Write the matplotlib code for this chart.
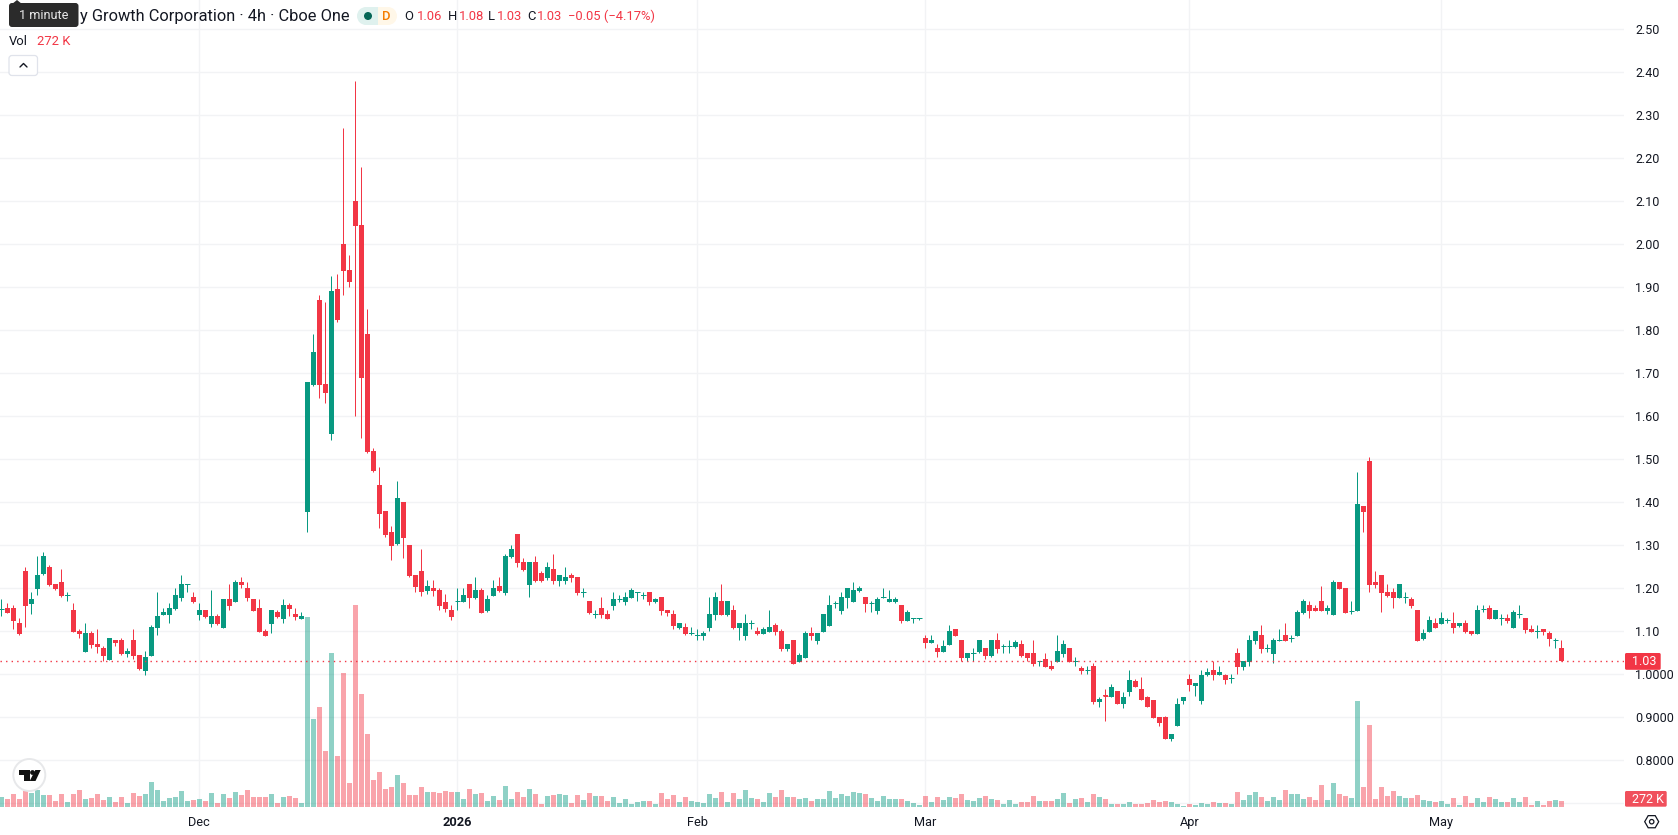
import matplotlib
matplotlib.use("Agg")
import matplotlib.pyplot as plt
from matplotlib.patches import Rectangle, FancyBboxPatch, Polygon, Circle, RegularPolygon

plt.rcParams["font.family"] = ["Roboto", "DejaVu Sans"]

# 4h OHLC series, oldest bar first
opens = [
    1.152,1.154,1.154,1.119,1.240,1.164,1.198,1.233,1.250,1.210,
    1.215,1.183,1.150,1.101,1.052,1.096,1.071,1.061,1.033,1.080,
    1.080,1.047,1.080,1.045,1.008,1.043,1.108,1.138,1.138,1.152,
    1.178,1.208,1.180,1.138,1.150,1.117,1.136,1.108,1.175,1.168,
    1.215,1.201,1.175,1.154,1.101,1.117,1.145,1.129,1.161,1.140,
    1.129,1.378,1.673,1.871,1.676,1.559,1.897,2.001,1.941,2.101,
    2.045,1.792,1.520,1.441,1.380,1.331,1.304,1.401,1.301,1.231,
    1.240,1.194,1.201,1.196,1.167,1.150,1.170,1.168,1.210,1.178,
    1.196,1.147,1.182,1.205,1.189,1.273,1.326,1.261,1.208,1.261,
    1.236,1.224,1.245,1.217,1.217,1.231,1.226,1.190,1.171,1.139,
    1.154,1.140,1.159,1.174,1.168,1.178,1.189,1.183,1.191,1.168,
    1.180,1.150,1.140,1.108,1.110,1.094,1.090,1.089,1.108,1.138,
    1.171,1.138,1.150,1.108,1.089,1.118,1.101,1.094,1.098,1.115,
    1.101,1.059,1.080,1.029,1.038,1.096,1.078,1.098,1.112,1.165,
    1.147,1.178,1.168,1.194,1.180,1.165,1.147,1.178,1.168,1.168,
    1.161,1.124,1.129,1.129,1.084,1.073,1.061,1.052,1.068,1.105,
    1.080,1.038,1.048,1.052,1.061,1.043,1.080,1.065,1.065,1.064,
    1.071,1.050,1.050,1.030,1.036,1.019,1.029,1.047,1.061,1.029,
    1.015,1.009,1.019,0.936,0.951,0.947,0.961,0.931,0.959,0.984,
    0.966,0.947,0.940,0.901,0.901,0.850,0.880,0.938,0.989,0.973,
    0.938,0.998,1.010,0.998,0.998,0.990,1.050,1.017,1.029,1.078,
    1.091,1.059,1.047,1.078,1.091,1.083,1.089,1.143,1.161,1.154,
    1.171,1.147,1.138,1.215,1.201,1.147,1.147,1.391,1.496,1.215,
    1.231,1.191,1.191,1.178,1.179,1.175,1.150,1.082,1.098,1.119,
    1.117,1.125,1.119,1.112,1.119,1.101,1.094,1.152,1.154,1.129,
    1.130,1.131,1.108,1.139,1.131,1.105,1.099,1.105,1.096,1.079,
    1.06,
]
highs = [
    1.174,1.165,1.161,1.131,1.250,1.191,1.275,1.285,1.254,1.210,
    1.245,1.191,1.166,1.105,1.119,1.101,1.105,1.066,1.084,1.080,
    1.084,1.061,1.105,1.045,1.054,1.115,1.191,1.154,1.166,1.201,
    1.231,1.210,1.191,1.166,1.150,1.196,1.140,1.175,1.210,1.219,
    1.226,1.215,1.175,1.175,1.105,1.150,1.150,1.175,1.166,1.154,
    1.145,1.680,1.792,1.881,1.866,1.927,1.932,2.271,1.976,2.380,
    2.180,1.850,1.527,1.481,1.380,1.345,1.450,1.401,1.301,1.231,
    1.292,1.219,1.219,1.201,1.186,1.161,1.201,1.201,1.210,1.226,
    1.200,1.185,1.219,1.226,1.280,1.301,1.326,1.270,1.261,1.275,
    1.240,1.261,1.280,1.231,1.250,1.236,1.226,1.201,1.171,1.150,
    1.180,1.150,1.191,1.185,1.191,1.200,1.191,1.191,1.191,1.177,
    1.180,1.150,1.150,1.119,1.119,1.110,1.105,1.101,1.180,1.191,
    1.210,1.171,1.161,1.119,1.140,1.126,1.110,1.110,1.150,1.119,
    1.105,1.071,1.080,1.050,1.101,1.110,1.096,1.140,1.184,1.171,
    1.191,1.201,1.215,1.205,1.180,1.171,1.180,1.201,1.196,1.180,
    1.161,1.150,1.130,1.130,1.091,1.091,1.071,1.080,1.115,1.105,
    1.080,1.050,1.061,1.080,1.061,1.080,1.096,1.071,1.080,1.080,
    1.080,1.050,1.080,1.031,1.050,1.031,1.091,1.080,1.061,1.040,
    1.019,1.019,1.026,0.947,0.966,0.978,0.961,0.959,1.010,0.989,
    0.994,0.950,0.940,0.901,0.903,0.861,0.945,0.947,1.001,0.980,
    1.010,1.015,1.031,1.019,1.001,1.001,1.061,1.031,1.091,1.101,
    1.115,1.071,1.084,1.105,1.119,1.091,1.150,1.175,1.171,1.161,
    1.205,1.161,1.219,1.215,1.201,1.171,1.470,1.391,1.505,1.240,
    1.231,1.210,1.201,1.210,1.191,1.180,1.150,1.105,1.136,1.131,
    1.145,1.131,1.145,1.119,1.126,1.101,1.161,1.161,1.161,1.150,
    1.140,1.140,1.150,1.161,1.131,1.115,1.115,1.105,1.101,1.084,
    1.08,
]
lows = [
    1.136,1.143,1.105,1.091,1.110,1.140,1.184,1.231,1.205,1.196,
    1.180,1.171,1.098,1.085,1.052,1.061,1.050,1.031,1.033,1.066,
    1.045,1.040,1.036,1.010,0.998,1.043,1.091,1.138,1.119,1.150,
    1.171,1.191,1.166,1.126,1.131,1.110,1.115,1.108,1.150,1.168,
    1.201,1.171,1.147,1.098,1.089,1.096,1.131,1.119,1.136,1.126,
    1.129,1.331,1.671,1.642,1.632,1.545,1.819,1.881,1.901,1.601,
    1.550,1.515,1.471,1.341,1.319,1.266,1.301,1.271,1.226,1.192,
    1.181,1.186,1.181,1.150,1.145,1.126,1.150,1.168,1.154,1.175,
    1.143,1.145,1.182,1.191,1.184,1.270,1.250,1.240,1.180,1.215,
    1.215,1.219,1.210,1.205,1.210,1.215,1.184,1.180,1.140,1.131,
    1.131,1.129,1.150,1.168,1.161,1.178,1.171,1.175,1.161,1.166,
    1.138,1.136,1.105,1.105,1.091,1.091,1.080,1.080,1.101,1.126,
    1.138,1.136,1.105,1.080,1.080,1.105,1.091,1.094,1.098,1.091,
    1.054,1.054,1.024,1.029,1.038,1.080,1.071,1.098,1.112,1.154,
    1.140,1.154,1.168,1.191,1.145,1.145,1.140,1.178,1.168,1.166,
    1.119,1.124,1.119,1.126,1.061,1.073,1.040,1.052,1.068,1.089,
    1.031,1.031,1.031,1.050,1.036,1.040,1.050,1.050,1.050,1.061,
    1.040,1.031,1.019,1.019,1.017,1.010,1.029,1.040,1.029,1.019,
    1.001,1.001,0.931,0.924,0.891,0.947,0.931,0.922,0.950,0.971,
    0.940,0.924,0.898,0.880,0.850,0.845,0.880,0.931,0.961,0.950,
    0.931,0.996,0.987,0.998,0.978,0.980,1.001,1.010,1.019,1.071,
    1.050,1.052,1.026,1.078,1.078,1.075,1.089,1.140,1.131,1.147,
    1.147,1.140,1.138,1.198,1.143,1.140,1.147,1.331,1.191,1.200,
    1.145,1.180,1.154,1.178,1.166,1.154,1.078,1.080,1.098,1.108,
    1.117,1.119,1.096,1.110,1.096,1.091,1.094,1.145,1.129,1.129,
    1.115,1.119,1.108,1.131,1.096,1.098,1.084,1.091,1.066,1.061,
    1.03,
]
closes = [
    1.153,1.143,1.124,1.094,1.159,1.175,1.231,1.275,1.208,1.198,
    1.182,1.184,1.098,1.094,1.096,1.068,1.064,1.043,1.084,1.073,
    1.047,1.054,1.043,1.012,1.040,1.110,1.136,1.145,1.154,1.184,
    1.210,1.210,1.168,1.150,1.133,1.136,1.117,1.175,1.159,1.215,
    1.208,1.178,1.147,1.098,1.089,1.150,1.133,1.161,1.152,1.133,
    1.136,1.680,1.750,1.673,1.655,1.892,1.824,1.938,1.912,2.043,
    1.690,1.517,1.473,1.373,1.324,1.299,1.411,1.318,1.229,1.203,
    1.191,1.205,1.194,1.160,1.152,1.133,1.171,1.184,1.178,1.196,
    1.143,1.175,1.201,1.194,1.275,1.291,1.259,1.243,1.261,1.217,
    1.217,1.250,1.217,1.231,1.226,1.224,1.189,1.191,1.143,1.140,
    1.138,1.129,1.175,1.175,1.180,1.196,1.191,1.184,1.168,1.175,
    1.147,1.143,1.112,1.119,1.094,1.095,1.091,1.096,1.140,1.180,
    1.138,1.171,1.108,1.119,1.119,1.119,1.094,1.105,1.110,1.098,
    1.059,1.071,1.024,1.045,1.096,1.089,1.096,1.140,1.161,1.166,
    1.180,1.201,1.196,1.201,1.164,1.166,1.175,1.179,1.175,1.175,
    1.124,1.145,1.130,1.130,1.073,1.080,1.052,1.066,1.101,1.089,
    1.038,1.050,1.049,1.080,1.043,1.080,1.059,1.066,1.066,1.075,
    1.043,1.038,1.024,1.031,1.017,1.012,1.054,1.071,1.029,1.030,
    1.008,1.010,0.936,0.943,0.950,0.971,0.931,0.947,0.987,0.971,
    0.940,0.924,0.898,0.887,0.850,0.861,0.931,0.947,0.975,0.980,
    0.998,1.005,0.998,1.005,0.987,0.991,1.017,1.031,1.080,1.101,
    1.059,1.060,1.080,1.079,1.078,1.084,1.145,1.171,1.147,1.147,
    1.147,1.154,1.215,1.198,1.143,1.148,1.396,1.378,1.208,1.208,
    1.189,1.182,1.178,1.210,1.180,1.159,1.078,1.096,1.126,1.108,
    1.131,1.126,1.108,1.119,1.098,1.094,1.150,1.153,1.129,1.150,
    1.131,1.124,1.145,1.140,1.103,1.098,1.100,1.098,1.082,1.080,
    1.03,
]
# Traded volume per bar, in thousands of shares
volumes_k = [
    464,368,608,368,752,656,800,560,560,272,
    608,224,608,800,368,416,608,320,464,224,
    464,176,656,512,608,1184,800,272,416,464,
    752,272,320,368,272,656,176,608,416,704,
    560,800,464,464,464,608,176,464,512,416,
    176,9088,4208,4784,2672,7376,2432,6416,1136,9680,
    5408,3488,1280,1664,848,944,1520,1136,560,560,
    944,704,704,656,752,704,704,368,848,608,
    656,272,512,320,992,368,704,464,848,608,
    128,512,560,608,560,176,560,320,656,512,
    512,272,464,176,368,128,224,272,272,128,
    656,368,560,224,464,272,224,176,608,416,
    704,224,656,368,800,416,368,224,656,464,
    800,464,464,368,416,272,368,368,752,416,
    608,512,704,656,608,416,272,512,368,368,
    368,272,176,80,512,224,464,320,464,416,
    608,320,272,416,512,368,320,128,320,128,
    224,224,512,272,272,272,368,656,176,368,
    416,224,608,464,368,128,128,128,224,128,
    128,176,320,224,272,224,128,32,128,80,
    160,128,224,176,176,144,704,320,560,704,
    464,272,464,320,800,608,608,368,464,320,
    1040,320,1136,608,512,416,5072,944,3920,368,
    944,512,752,512,416,416,560,320,272,224,
    272,128,416,80,512,176,416,224,464,368,
    224,224,416,224,464,80,272,80,272,320,
    272,
]

# Time axis: bar index of each month boundary and its label
tick_bars = [33, 76, 116, 154, 198, 240]
tick_labels = ["Dec", "2026", "Feb", "Mar", "Apr", "May"]

# Price scale levels; the 0.70 level sits behind the volume tag, so it only gets a grid line
grid_levels = [0.7, 0.8, 0.9, 1.0, 1.1, 1.2, 1.3, 1.4, 1.5, 1.6, 1.7, 1.8, 1.9,
               2.0, 2.1, 2.2, 2.3, 2.4, 2.5]
price_ticks = grid_levels[1:]

UP = "#089981"
DOWN = "#F23645"
GRID = "#F2F3F5"
INK = "#131722"

W, H = 1678, 835
PANE_RIGHT, PANE_BOTTOM = 1624.0, 806.7
BAR_STEP = 6.0
FIRST_BAR_X = 1.3
PX_PER_UNIT = 430.0
Y_AT_ONE = 674.3
K_PER_PX = 48.0

fig = plt.figure(figsize=(W / 100, H / 100), dpi=100, facecolor="white")
rect = [0, 1 - PANE_BOTTOM / H, PANE_RIGHT / W, PANE_BOTTOM / H]

ax = fig.add_axes(rect, zorder=2)
ax.patch.set_alpha(0)
ax_vol = fig.add_axes(rect, zorder=1, sharex=ax)
ax_vol.set_facecolor("white")

n = len(closes)
xs = list(range(n))
colors = [UP if c >= o else DOWN for o, c in zip(opens, closes)]

ax.set_xlim(-FIRST_BAR_X / BAR_STEP, (PANE_RIGHT - FIRST_BAR_X) / BAR_STEP)
ax.set_ylim(1 - (PANE_BOTTOM - Y_AT_ONE) / PX_PER_UNIT, 1 + Y_AT_ONE / PX_PER_UNIT)
ax_vol.set_ylim(0, PANE_BOTTOM * K_PER_PX)

# Grid stays beneath every mark
for lvl in grid_levels:
    ax_vol.axhline(lvl * 0 + (lvl - ax.get_ylim()[0]) / (ax.get_ylim()[1] - ax.get_ylim()[0]) * ax_vol.get_ylim()[1],
                   color=GRID, lw=1.0, zorder=0.5)
for b in tick_bars:
    ax_vol.axvline(b, color=GRID, lw=1.0, zorder=0.5)

# Volume histogram
ax_vol.bar(xs, volumes_k, width=5 / 6, color=colors, alpha=0.45, linewidth=0, zorder=2)

# Candles: wick, body, and a hairline where open and close nearly coincide
ax.vlines(xs, lows, highs, colors=colors, lw=0.72, zorder=3)
bottoms = [min(o, c) for o, c in zip(opens, closes)]
heights = [abs(o - c) for o, c in zip(opens, closes)]
ax.bar(xs, heights, bottom=bottoms, width=5 / 6, color=colors, linewidth=0, zorder=4)
for x, o, c, col in zip(xs, opens, closes, colors):
    if abs(o - c) < 0.004:
        ax.hlines(c, x - 0.42, x + 0.42, colors=col, lw=0.72, zorder=4)

# Last-price line
last_close = closes[-1]
ax.axhline(last_close, color=DOWN, lw=1.0, ls=(0, (1, 3)), zorder=5)

for side in ax.spines.values():
    side.set_visible(False)
for side in ax_vol.spines.values():
    side.set_visible(False)
ax_vol.tick_params(left=False, labelleft=False, bottom=False, labelbottom=False)

ax.yaxis.tick_right()
ax.set_yticks(price_ticks)
ax.set_yticklabels([f"{t:.4f}" if t < 1.05 else f"{t:.2f}" for t in price_ticks],
                   fontsize=9.0, color=INK)
ax.tick_params(axis="y", length=0, pad=8)
ax.set_xticks(tick_bars)
ax.set_xticklabels(tick_labels, fontsize=9.2, color=INK)
ax.get_xticklabels()[1].set_fontweight("bold")
ax.tick_params(axis="x", length=0, pad=7)

# Interface layer drawn in screen pixels
ui = fig.add_axes([0, 0, 1, 1], zorder=10)
ui.set_xlim(0, W)
ui.set_ylim(H, 0)
ui.axis("off")
ui.patch.set_alpha(0)

# Header line with instrument, session badge and OHLC read-out
ui.text(80, 16, "y Growth Corporation · 4h · Cboe One", fontsize=11.8, color=INK, va="center", ha="left")
ui.add_patch(Rectangle((366, 7), 12, 18, fc="#DFF1EE", ec="none"))
ui.add_patch(Circle((366, 16), 9, fc="#DFF1EE", ec="none"))
ui.add_patch(Rectangle((378, 7), 10, 18, fc="#FFF7E8", ec="none"))
ui.add_patch(Circle((388, 16), 9, fc="#FFF7E8", ec="none"))
ui.add_patch(Circle((368, 16), 4, fc="#056656", ec="none"))
ui.text(386, 16, "D", fontsize=9.4, color="#F57C00", va="center", ha="center", fontweight="medium")

ohlc = [("O", 404, opens[-1], 416.5), ("H", 448, highs[-1], 458.5),
        ("L", 488, lows[-1], 496.4), ("C", 527.7, closes[-1], 537)]
for letter, lx, val, vx in ohlc:
    ui.text(lx, 16, letter, fontsize=9.4, color=INK, va="center", ha="left")
    ui.text(vx, 16, f"{val:.2f}", fontsize=9.4, color=DOWN, va="center", ha="left")
ui.text(568, 16, "−0.05 (−4.17%)", fontsize=9.4, color=DOWN, va="center", ha="left")

ui.text(9, 41.5, "Vol", fontsize=9.4, color=INK, va="center", ha="left")
ui.text(36.6, 41.5, f"{volumes_k[-1]} K", fontsize=9.4, color=DOWN, va="center", ha="left")

# Collapse button
ui.add_patch(FancyBboxPatch((9, 55.5), 28.5, 20, boxstyle="round,pad=0,rounding_size=3",
                            fc="white", ec="#E0E3EB", lw=0.9))
ui.plot([20, 23.5, 27], [67, 63.5, 67], color=INK, lw=1.0, solid_capstyle="round")

# Tooltip over the header
ui.add_patch(Polygon([(12, 4), (17, 0), (22, 4)], closed=True, fc="#2B2B2B", ec="none"))
ui.add_patch(FancyBboxPatch((9, 3), 69.5, 24, boxstyle="round,pad=0,rounding_size=3", fc="#2B2B2B", ec="none"))
ui.text(43.5, 15.5, "1 minute", fontsize=9.2, color="#E8E8E8", va="center", ha="center")

# Round logo badge
ui.add_patch(Circle((29.3, 775), 16, fc="white", ec="#E7E8EA", lw=1.4))
ui.add_patch(Polygon([(19, 770), (29.7, 770), (29.7, 781), (24.3, 781), (24.3, 775), (19, 775)],
                     closed=True, fc="#111111", ec="none"))
ui.add_patch(Circle((32.5, 772.5), 2.4, fc="#111111", ec="none"))
ui.add_patch(Polygon([(35.3, 770), (40.7, 770), (35.5, 781), (29.7, 781)], closed=True, fc="#111111", ec="none"))

# Right-hand value tags, positioned by the data they report
to_px = lambda p: Y_AT_ONE - (p - 1) * PX_PER_UNIT
tag_y = to_px(last_close)
ui.add_patch(FancyBboxPatch((1625, tag_y - 8.4), 35.7, 16.8, boxstyle="round,pad=0,rounding_size=1.5",
                            fc=DOWN, ec="none"))
ui.text(1632, tag_y, f"{last_close:.2f}", fontsize=9.0, color="white", va="center", ha="left")
ui.add_patch(FancyBboxPatch((1625, 791), 41.7, 15.7, boxstyle="round,pad=0,rounding_size=1.5",
                            fc="#F0505C", ec="none"))
ui.text(1632, 799.5, f"{volumes_k[-1]} K", fontsize=9.0, color="white", va="center", ha="left")

# Settings glyph
ui.add_patch(RegularPolygon((1651.7, 821.7), 6, radius=7, orientation=0.5236, fc="none", ec=INK, lw=0.9))
ui.add_patch(Circle((1651.7, 821.7), 2.2, fc="none", ec=INK, lw=0.9))

fig.savefig("out.png", dpi=100, facecolor="white")
